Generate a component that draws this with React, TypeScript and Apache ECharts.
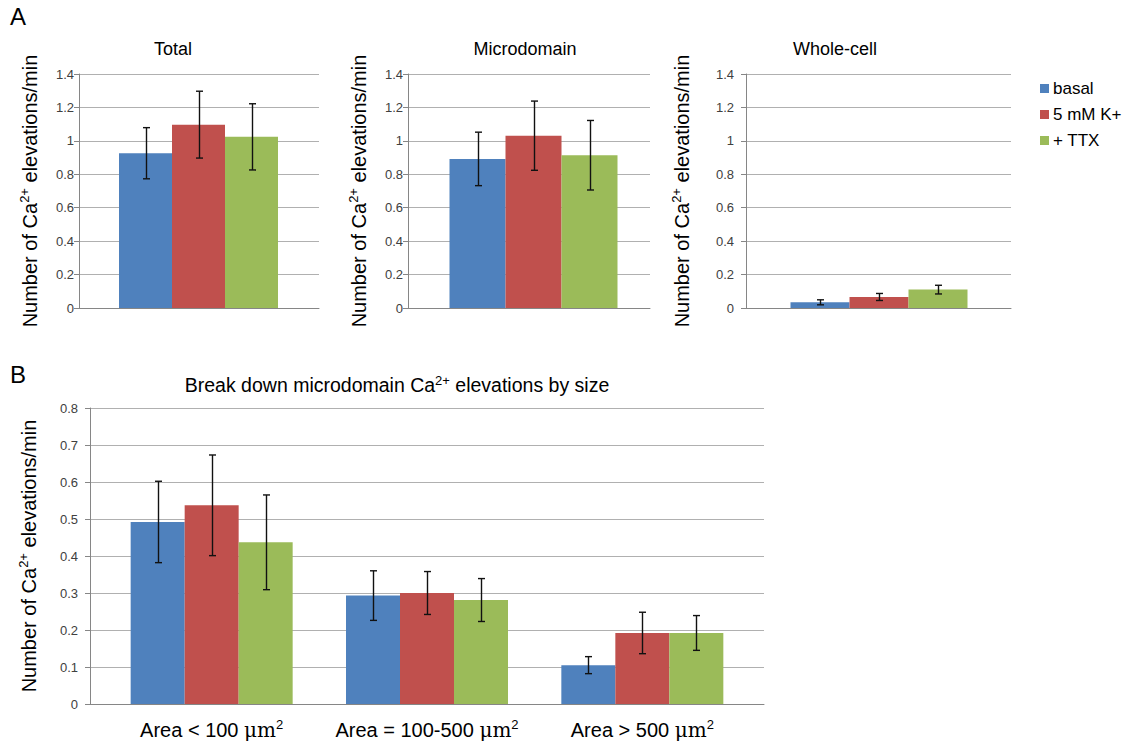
import React, { useEffect, useRef } from 'react';
import * as echarts from 'echarts';

const seriesNames = ['basal', '5 mM K+', '+ TTX'];
const seriesColors = ['#4f81bd', '#c0504d', '#9bbb59'];

// Panel A (one category per panel, values per treatment)
const totalMean = [0.926, 1.097, 1.024];
const totalErr = [0.153, 0.2, 0.198];
const microMean = [0.892, 1.031, 0.914];
const microErr = [0.16, 0.207, 0.208];
const wholeMean = [0.034, 0.066, 0.11];
const wholeErr = [0.015, 0.021, 0.026];
const panelATitles = ['Total', 'Microdomain', 'Whole-cell'];

// Panel B
const sizeCategories = ['Area < 100 μm²', 'Area = 100-500 μm²', 'Area > 500 μm²'];
const sizeBasal = [0.492, 0.293, 0.105];
const sizeBasalErr = [0.11, 0.067, 0.023];
const sizeK = [0.537, 0.3, 0.192];
const sizeKErr = [0.136, 0.058, 0.056];
const sizeTTX = [0.437, 0.281, 0.192];
const sizeTTXErr = [0.128, 0.058, 0.047];

const FONT = 'Liberation Sans, Arial, sans-serif';

const yName = '{t|Number of Ca}{s|2+}{t| elevations/min}';
const yNameRich = {
  t: { fontSize: 20, fontFamily: FONT, color: '#000', lineHeight: 24 },
  s: { fontSize: 13, fontFamily: FONT, color: '#000', verticalAlign: 'top', lineHeight: 14 },
};

export default function App() {
  const ref = useRef<HTMLDivElement>(null);
  useEffect(() => {
    if (!ref.current) return;
    const chart = echarts.init(ref.current, undefined, { renderer: 'svg' });

    const panels = [
      { frame: { left: 79, top: 74, width: 240, height: 234 }, bars: { left: 79, width: 239 }, max: 1.4, interval: 0.2, bw: 53, gap: 37, margin: 5, cats: [''], means: [[totalMean[0]], [totalMean[1]], [totalMean[2]]], errs: [[totalErr[0]], [totalErr[1]], [totalErr[2]]] },
      { frame: { left: 408, top: 74, width: 242, height: 234 }, bars: { left: 408, width: 251 }, max: 1.4, interval: 0.2, bw: 56, gap: 37, margin: 5, cats: [''], means: [[microMean[0]], [microMean[1]], [microMean[2]]], errs: [[microErr[0]], [microErr[1]], [microErr[2]]] },
      { frame: { left: 746, top: 74, width: 265, height: 234 }, bars: { left: 746, width: 266 }, max: 1.4, interval: 0.2, bw: 59, gap: 52, margin: 12, cats: [''], means: [[wholeMean[0]], [wholeMean[1]], [wholeMean[2]]], errs: [[wholeErr[0]], [wholeErr[1]], [wholeErr[2]]] },
      { frame: { left: 90, top: 408, width: 674, height: 296 }, bars: { left: 104, width: 646 }, max: 0.8, interval: 0.1, bw: 54, gap: 49, margin: 12, cats: sizeCategories, means: [sizeBasal, sizeK, sizeTTX], errs: [sizeBasalErr, sizeKErr, sizeTTXErr] },
    ];

    const grid: any[] = [];
    const xAxis: any[] = [];
    const yAxis: any[] = [];
    const series: any[] = [];

    panels.forEach((p, pi) => {
      const fi = pi * 2;
      const bi = pi * 2 + 1;
      grid.push({ ...p.frame });
      grid.push({ left: p.bars.left, width: p.bars.width, top: p.frame.top, height: p.frame.height });
      xAxis.push({
        type: 'category', gridIndex: fi, data: p.cats,
        axisLine: { show: true, lineStyle: { color: '#868686', width: 1 } },
        axisTick: { show: false }, axisLabel: { show: false }, splitLine: { show: false },
      });
      xAxis.push({
        type: 'category', gridIndex: bi, data: p.cats,
        axisLine: { show: false }, axisTick: { show: false },
        axisLabel: {
          show: pi === 3, margin: 14,
          formatter: (v: string) => '{t|' + v.replace('μm²', '}{u|μm}{s|2}'),
          rich: {
            t: { fontSize: 20, fontFamily: FONT, color: '#000', lineHeight: 24 },
            u: { fontSize: 20, fontFamily: 'DejaVu Serif, serif', color: '#000', lineHeight: 24 },
            s: { fontSize: 13, fontFamily: FONT, color: '#000', verticalAlign: 'top', lineHeight: 14 },
          },
        },
      });
      yAxis.push({
        type: 'value', gridIndex: fi, min: 0, max: p.max, interval: p.interval,
        name: yName, nameLocation: 'middle', nameGap: p.gap, nameRotate: 90,
        nameTextStyle: { rich: yNameRich },
        axisLine: { show: true, lineStyle: { color: '#868686', width: 1 } },
        axisTick: { show: true, length: 5, lineStyle: { color: '#868686' } },
        axisLabel: { margin: p.margin, fontSize: 13, fontFamily: FONT, color: '#404040' },
        splitLine: { show: true, lineStyle: { color: '#b0b0b0', width: 1 } },
      });
      yAxis.push({ type: 'value', gridIndex: bi, min: 0, max: p.max, interval: p.interval, show: false, splitLine: { show: false } });

      for (let i = 0; i < 3; i++) {
        series.push({
          type: 'bar', name: seriesNames[i], xAxisIndex: bi, yAxisIndex: bi,
          barWidth: p.bw, barGap: '0%', data: p.means[i],
          itemStyle: { color: seriesColors[i] },
        });
        const off = (i - 1) * p.bw;
        series.push({
          type: 'custom', xAxisIndex: bi, yAxisIndex: bi, z: 10, silent: true,
          data: p.means[i].map((m: number, c: number) => [c, m, p.errs[i][c]]),
          encode: { x: 0, y: 1 },
          renderItem: (_params: any, api: any) => {
            const c = api.value(0);
            const m = api.value(1);
            const e = api.value(2);
            const hi = api.coord([c, m + e]);
            const lo = api.coord([c, m - e]);
            const x = Math.round(hi[0] + off) + 0.5;
            const cap = 3.5;
            const style = { stroke: '#111', lineWidth: 1.4 };
            return {
              type: 'group',
              children: [
                { type: 'line', shape: { x1: x, y1: hi[1], x2: x, y2: lo[1] }, style },
                { type: 'line', shape: { x1: x - cap, y1: hi[1], x2: x + cap, y2: hi[1] }, style },
                { type: 'line', shape: { x1: x - cap, y1: lo[1], x2: x + cap, y2: lo[1] }, style },
              ],
            };
          },
        });
      }
    });

    const titleStyle = { fontSize: 18, fontWeight: 'normal', fontFamily: FONT, color: '#000' };
    const option: any = {
      animation: false,
      backgroundColor: '#fff',
      title: [
        { text: 'A', left: 10, top: 4, padding: 0, textStyle: { fontSize: 24, fontWeight: 'normal', fontFamily: FONT, color: '#000' } },
        { text: 'B', left: 10, top: 362, padding: 0, textStyle: { fontSize: 24, fontWeight: 'normal', fontFamily: FONT, color: '#000' } },
        { text: panelATitles[0], left: 173, top: 40, padding: 0, textAlign: 'center', textStyle: titleStyle },
        { text: panelATitles[1], left: 525, top: 40, padding: 0, textAlign: 'center', textStyle: titleStyle },
        { text: panelATitles[2], left: 835, top: 40, padding: 0, textAlign: 'center', textStyle: titleStyle },
        {
          text: '{t|Break down microdomain Ca}{s|2+}{t| elevations by size}', left: 397, top: 374, padding: 0, textAlign: 'center',
          textStyle: {
            ...titleStyle,
            rich: {
              t: { fontSize: 19.5, fontFamily: FONT, color: '#000', lineHeight: 22 },
              s: { fontSize: 13, fontFamily: FONT, color: '#000', verticalAlign: 'top', lineHeight: 12 },
            },
          },
        },
      ],
      legend: {
        data: seriesNames, orient: 'vertical', left: 1040, top: 80, padding: 0,
        itemWidth: 9, itemHeight: 9, itemGap: 9, icon: 'rect',
        textStyle: { fontSize: 17, fontFamily: FONT, color: '#000', padding: [0, 0, 0, -1] },
      },
      grid, xAxis, yAxis, series,
    };
    chart.setOption(option);
    return () => chart.dispose();
  }, []);
  return <div ref={ref} style={{ position: 'absolute', left: 0, top: 0, width: 1130, height: 744 }} />;
}
